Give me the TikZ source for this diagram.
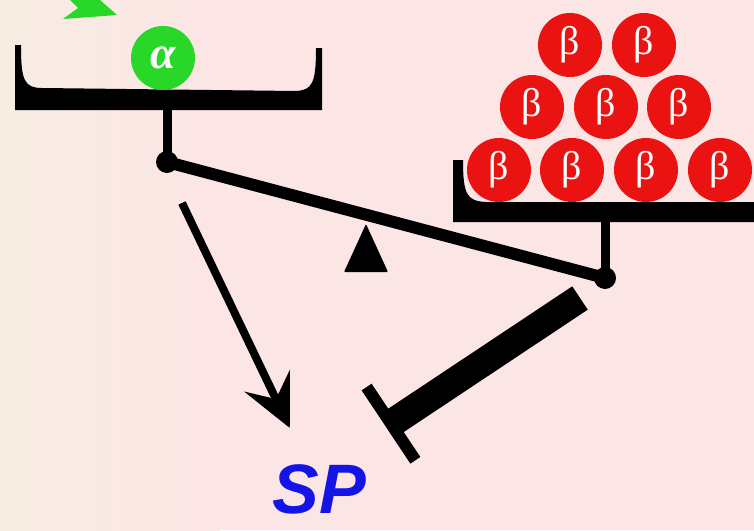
\documentclass[tikz,border=0pt]{standalone}
\usepackage{fontspec}
\setmainfont{Liberation Serif}
\setsansfont{Liberation Sans}
\usetikzlibrary{arrows.meta}
\definecolor{bgpink}{RGB}{252,229,229}
\definecolor{bgcream}{RGB}{247,237,226}
\definecolor{alphagreen}{RGB}{40,215,40}
\definecolor{betared}{RGB}{235,18,18}
\definecolor{spblue}{RGB}{20,20,230}
\begin{document}
\begin{tikzpicture}[x=1pt,y=-1pt,
  ball/.style={circle,inner sep=0pt,minimum size=64pt,text=white},
  alphaball/.style={ball,fill=alphagreen,font=\bfseries\itshape\fontsize{46}{48}\selectfont},
  betaball/.style={ball,fill=betared,font=\fontsize{40}{42}\selectfont},
  pivot/.style={circle,fill=black,inner sep=0pt,minimum size=22pt},
  stem/.style={draw=black,line width=9pt},
  beam/.style={draw=black,line width=12pt},
  actarrow/.style={draw=black,line width=8pt,-{Stealth[length=52pt,width=50pt,inset=20pt]}},
  inharrow/.style={draw=black,line width=28pt,-{Bar[width=88pt,line width=12pt]}}]
\path[use as bounding box] (0,0) rectangle (754,530);
\fill[bgpink] (0,0) rectangle (754,530);
\shade[left color=bgcream,right color=bgpink] (0,0) rectangle (220,530);
% green arrow head, cut by the top edge
\fill[alphagreen] (63,19) -- (78,8) -- (70,0) -- (100,0) -- (117,15) -- cycle;
% left pan
\fill[black] (15,45) -- (15,110) -- (322,110) -- (322,48) -- (316,48) .. controls (316,84) and (312,90) .. (296,91) -- (42,88) .. controls (24,88) and (21,80) .. (21,45) -- cycle;
% right pan
\fill[black] (453,160) -- (453,222) -- (754,222) -- (754,202) -- (486,202) .. controls (467,201) and (463,195) .. (463,160) -- cycle;
\coordinate (leftStemTop) at (167,108);
\coordinate (rightStemTop) at (605,220);
\node[pivot] (pivotL) at (167,162) {};
\node[pivot] (pivotR) at (605,278) {};
\draw[stem] (leftStemTop) -- (pivotL.center);
\draw[stem] (rightStemTop) -- (pivotR.center);
\draw[beam] (pivotL.center) -- (pivotR.center);
% fulcrum
\fill[black,rounded corners=1pt] (344,272) -- (366,224) -- (388,272) -- cycle;
\node[alphaball] (alpha) at (163,58) {α};
\node[betaball] (betaB1) at (499,170) {β};
\node[betaball] (betaB2) at (572,170) {β};
\node[betaball] (betaB3) at (646,170) {β};
\node[betaball] (betaB4) at (720,170) {β};
\node[betaball] (betaM1) at (532,107) {β};
\node[betaball] (betaM2) at (606,107) {β};
\node[betaball] (betaM3) at (679,107) {β};
\node[betaball] (betaT1) at (570,45) {β};
\node[betaball] (betaT2) at (644,45) {β};
\node[inner sep=0pt,text=spblue,font=\sffamily\bfseries\itshape\fontsize{70}{74}\selectfont] (sp) at (319,489) {SP};
\coordinate (actFrom) at (182,203);
\coordinate (inhFrom) at (580,298);
\coordinate (inhTo) at (386,427);
\draw[actarrow,shorten >=40pt] (actFrom) -- (sp);
\draw[inharrow] (inhFrom) -- (inhTo);
\end{tikzpicture}
\end{document}
